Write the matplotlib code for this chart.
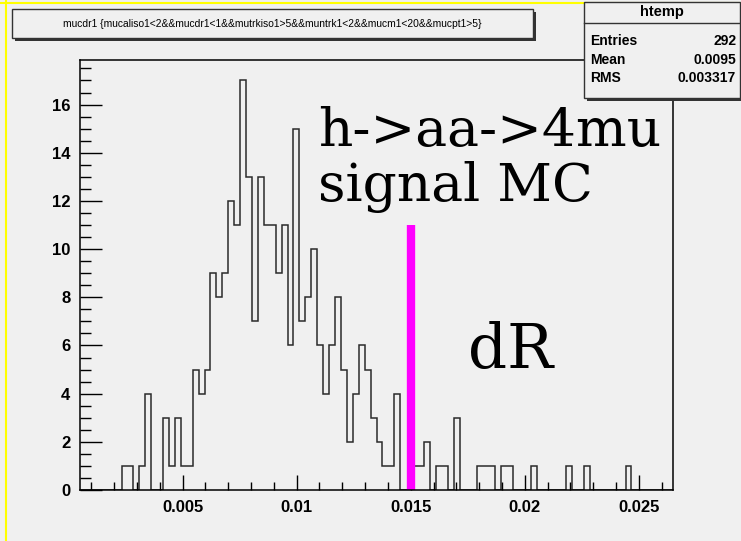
import matplotlib
matplotlib.use("Agg")
import matplotlib.pyplot as plt
from matplotlib.patches import Rectangle
from matplotlib.lines import Line2D
from matplotlib.ticker import MultipleLocator
import numpy as np

# histogram of mucdr1, 100 bins between 0.0005 and 0.0265
x_lo, x_hi, n_bins = 0.0005, 0.0265, 100
counts = [0, 0, 0, 0, 0, 0, 0, 1, 1, 0,
          1, 4, 0, 0, 3, 1, 3, 1, 1, 5,
          4, 5, 9, 8, 9, 12, 11, 17, 13, 7,
          13, 11, 11, 9, 11, 6, 15, 7, 8, 10,
          6, 4, 6, 8, 5, 2, 4, 6, 5, 3,
          2, 1, 1, 4, 0, 0, 1, 1, 2, 0,
          1, 1, 0, 3, 0, 0, 0, 1, 1, 1,
          0, 1, 1, 0, 0, 0, 1, 0, 0, 0,
          0, 0, 1, 0, 0, 1, 0, 0, 0, 0,
          0, 0, 1, 0, 0, 0, 0, 0, 0, 0]
marker_x = 0.015
marker_h = 11

title_txt = "mucdr1 {mucaliso1<2&&mucdr1<1&&mutrkiso1>5&&muntrk1<2&&mucm1<20&&mucpt1>5}"
stat_names = ["Entries", "Mean", "RMS"]
stat_vals = ["292", "0.0095", "0.003317"]

W, H = 741, 541
bg = "#f0f0f0"
sans = ["Liberation Sans", "DejaVu Sans"]

fig = plt.figure(figsize=(W / 100, H / 100), dpi=100, facecolor=bg)
ax = fig.add_axes([80 / W, 1 - 490 / H, (673 - 80) / W, (490 - 60) / H], facecolor=bg)

edges = np.linspace(x_lo, x_hi, n_bins + 1)
ax.stairs(counts, edges, color="#2a2a2a", lw=1.1)
ax.vlines(marker_x, 0, marker_h, color="#ff00ff", lw=6)

ax.set_xlim(x_lo, x_hi)
ax.set_ylim(0, max(counts) * 1.05)
ax.xaxis.set_major_locator(MultipleLocator(0.005))
ax.xaxis.set_minor_locator(MultipleLocator(0.001))
ax.yaxis.set_major_locator(MultipleLocator(2))
ax.yaxis.set_minor_locator(MultipleLocator(0.5))
ax.set_xticks([0.005, 0.01, 0.015, 0.02, 0.025])
ax.set_xticklabels(["0.005", "0.01", "0.015", "0.02", "0.025"])
ax.tick_params(axis="x", which="major", direction="in", length=11, width=1, pad=7)
ax.tick_params(axis="x", which="minor", direction="in", length=6, width=1)
ax.tick_params(axis="y", which="major", direction="in", length=16, width=1, pad=7)
ax.tick_params(axis="y", which="minor", direction="in", length=8, width=1)
for lab in ax.get_xticklabels() + ax.get_yticklabels():
    lab.set_family(sans)
    lab.set_fontweight("bold")
    lab.set_fontsize(12)
for s in ax.spines.values():
    s.set_linewidth(1.1)

ax.text(0.01095, 13.7, "h->aa->4mu\nsignal MC", family="DejaVu Serif", fontsize=38.5,
        va="center", ha="left", linespacing=1.1)
ax.text(0.0175, 5.75, "dR", family="DejaVu Serif", fontsize=44, va="center", ha="left")


def px_rect(x0, y0, x1, y1, **kw):
    return Rectangle((x0 / W, 1 - y1 / H), (x1 - x0) / W, (y1 - y0) / H,
                     transform=fig.transFigure, **kw)


# title box with shadow
fig.add_artist(px_rect(15, 12, 536, 41, facecolor="#333333", edgecolor="none"))
fig.add_artist(px_rect(12, 9, 533, 38, facecolor=bg, edgecolor="#333333", lw=1))
fig.text(272 / W, 1 - 24 / H, title_txt, family=sans, fontsize=7.4,
         ha="center", va="center")

# stats box
fig.add_artist(px_rect(587, 5, 744, 101, facecolor="#333333", edgecolor="none"))
fig.add_artist(px_rect(584, 2, 740, 98, facecolor=bg, edgecolor="#333333", lw=1, zorder=3))
fig.add_artist(Line2D([584 / W, 740 / W], [1 - 23 / H, 1 - 23 / H], color="#333333", lw=1, zorder=4))
fig.text(662 / W, 1 - 12 / H, "htemp", family=sans, fontweight="bold", fontsize=10.5,
         ha="center", va="center", zorder=5)
for i, (nm, vl) in enumerate(zip(stat_names, stat_vals)):
    yy = 1 - (41 + 18.5 * i) / H
    fig.text(590 / W, yy, nm, family=sans, fontweight="bold", fontsize=10,
             ha="left", va="center", zorder=5)
    fig.text(736 / W, yy, vl, family=sans, fontweight="bold", fontsize=10,
             ha="right", va="center", zorder=5)

# yellow canvas border
fig.add_artist(Line2D([6 / W, 6 / W], [0, 1], color="#ffff00", lw=1.5))
fig.add_artist(Line2D([0, 1], [1 - 3 / H, 1 - 3 / H], color="#ffff00", lw=1.5))

fig.savefig("out.png", dpi=100, facecolor=bg)
